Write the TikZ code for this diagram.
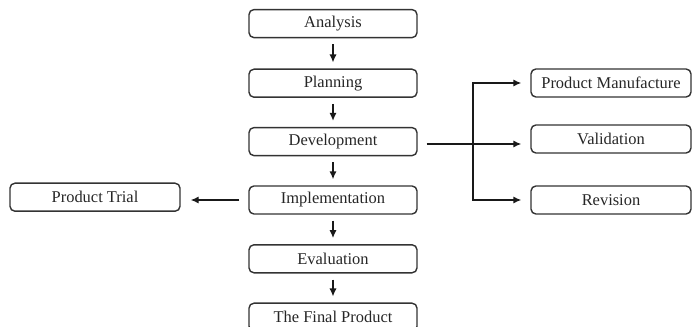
\documentclass[tikz,border=0pt]{standalone}
\usepackage{fontspec}
\setmainfont{Liberation Serif}
\usepackage{xcolor}
\usepackage{tikz}
\usetikzlibrary{arrows.meta,positioning,calc}

\begin{document}
\begin{tikzpicture}[
    stagenode/.style={
        rectangle, rounded corners=3.5pt, draw=black!80,
        line width=1pt, minimum width=4.2cm, minimum height=0.7cm,
        font=\fontsize{11.7}{13}\selectfont, text=black!85, align=center
    },
    sidenode/.style={
        stagenode, minimum width=4.0cm
    },
    fwd/.style={-{Latex[length=2mm,width=1.8mm]}, line width=1pt, black!90},
    gap/.style={shorten <=1.5mm, shorten >=1.5mm}
]
\useasboundingbox (0,0) rectangle (17.325,-8.175);

% Main stages (centre column, top to bottom)
\node[stagenode] (An)  at (8.325, -0.59)  {Analysis};
\node[stagenode] (Pl)  at (8.325, -2.08)  {Planning};
\node[stagenode] (Dev) at (8.325, -3.54)  {Development};
\node[stagenode] (Imp) at (8.325, -5.0)   {Implementation};
\node[stagenode] (Ev)  at (8.325, -6.47)  {Evaluation};
\node[stagenode] (Fin) at (8.325, -7.93)  {The Final Product};

% Side stages
\node[sidenode, minimum width=4.25cm] (Tr) at (2.375, -4.93) {Product Trial};
\node[sidenode] (PM)  at (15.275, -2.075) {Product Manufacture};
\node[sidenode] (Val) at (15.275, -3.475) {Validation};
\node[sidenode] (Rev) at (15.275, -5.0)   {Revision};

% Flow down the column
\draw[fwd, gap] (An)  -- (Pl);
\draw[fwd, gap] (Pl)  -- (Dev);
\draw[fwd, gap] (Dev) -- (Imp);
\draw[fwd, gap] (Imp) -- (Ev);
\draw[fwd, gap] (Ev)  -- (Fin);

% Branch out of development
\coordinate (split) at (11.825, -3.6);
\draw[fwd, shorten <=2.25mm, shorten >=2.25mm] (Dev.east |- split) -- (Val.west |- split);
\draw[fwd, shorten >=2.25mm] (split) |- (PM.west);
\draw[fwd, shorten >=2.25mm] (split) |- (Rev.west);

% Trial off to the left
\draw[fwd, shorten <=2.25mm, shorten >=2.5mm] (Imp.west) -- (Imp.west -| Tr.east);
\end{tikzpicture}
\end{document}
